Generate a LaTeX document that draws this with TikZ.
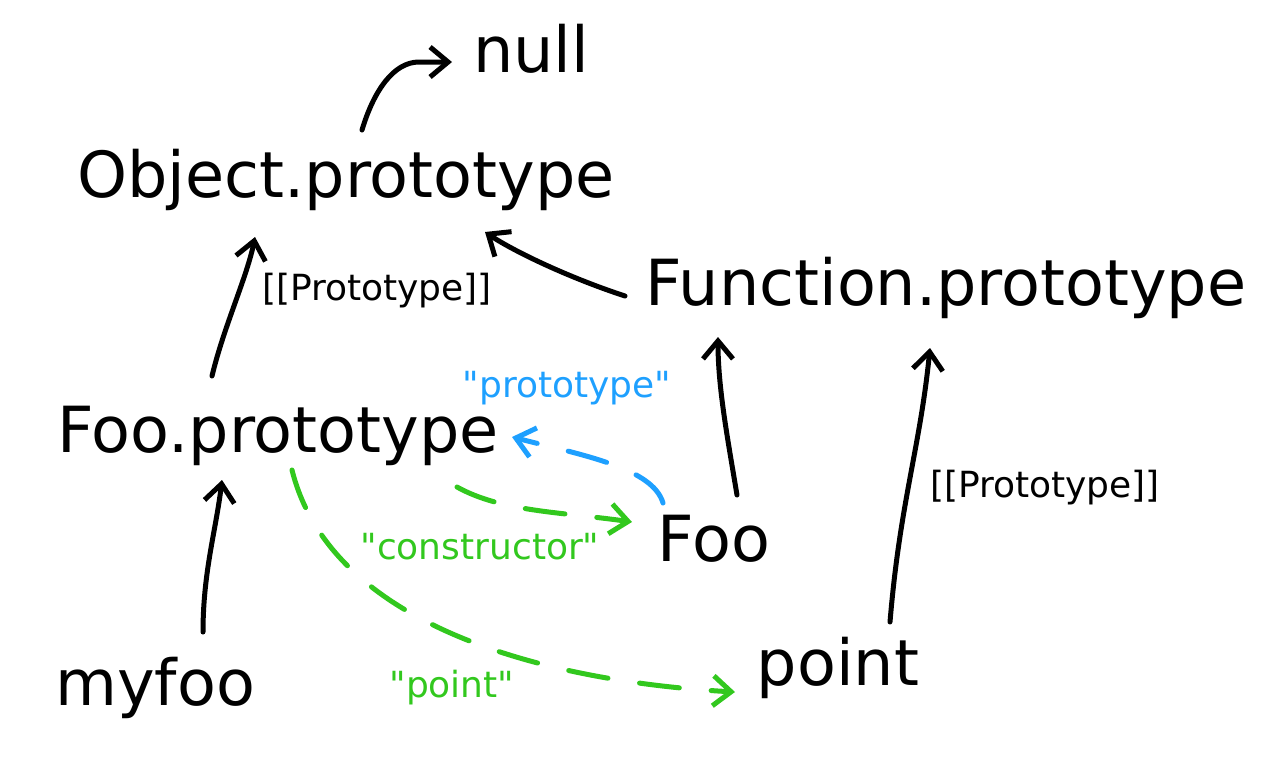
\documentclass[tikz,border=0pt]{standalone}
\usepackage{fontspec}
\setmainfont{DejaVu Sans}
\newfontfamily\plainsans{DejaVu Sans}
\usepackage{tikz}
\usetikzlibrary{arrows.meta,calc}
\definecolor{cproto}{RGB}{30,160,255}
\definecolor{cctor}{RGB}{50,200,30}
\tikzset{
  obj/.style={font=\plainsans\fontsize{31.8}{36}\selectfont, inner sep=0pt, text=black},
  lbl/.style={font=\plainsans\fontsize{18}{22}\selectfont, inner sep=0pt, text=#1},
  link/.style={-{Straight Barb[length=9pt,width=15pt,line width=2.5pt]}, line width=2.5pt,
               line cap=round, line join=round, #1},
  link/.default=black,
  dlink/.style={link=#1, dash pattern=on 20pt off 16pt},
}

\begin{document}
\begin{tikzpicture}[x=0.5pt, y=-0.5pt]
\useasboundingbox (0,0) rectangle (1276,772);
% objects
\node[obj] (null) at (531,49) {null};
\node[obj] (objproto) at (346,180) {Object.prototype};
\node[obj] (funcproto) at (946,288) {Function.prototype};
\node[obj] (fooproto) at (278,436) {Foo.prototype};
\node[obj] (foo) at (714,539) {Foo};
\node[obj] (point) at (838,668) {point};
\node[obj] (myfoo) at (155,688) {myfoo};
% labels
\node[lbl=black] (lproto1) at (377,291) {[[Prototype]]};
\node[lbl=black] (lproto2) at (1045,488) {[[Prototype]]};
\node[lbl=cproto] (lprop) at (567,388) {"prototype"};
\node[lbl=cctor] (lctor) at (480,547) {"constructor"};
\node[lbl=cctor] (lpoint) at (452,688) {"point"};
% [[Prototype]] links
\draw[link] ($(objproto)+(16,-50)$) .. controls +(12,-40) and +(-25,0) .. ($(null)+(-112,13)$) -- ($(null)+(-79,13)$);
\draw[link] ($(fooproto)+(-66,-60)$) .. controls +(12,-50) and +(-8,40) .. ($(objproto)+(-91,57)$);
\draw[link] ($(funcproto)+(-321,8)$) .. controls +(-55,-18) and +(30,20) .. ($(objproto)+(139,52)$);
\draw[link] ($(foo)+(23,-44)$) .. controls +(-10,-60) and +(0,50) .. ($(funcproto)+(-228,49)$);
\draw[link] ($(point)+(52,-46)$) .. controls +(10,-120) and +(-10,100) .. ($(funcproto)+(-16,60)$);
\draw[link] ($(myfoo)+(48,-56)$) .. controls +(0,-60) and +(-6,50) .. ($(fooproto)+(-56,44)$);
% properties
\draw[dlink=cproto] ($(foo)+(-51,-36)$) .. controls +(-10,-35) and +(70,18) .. ($(fooproto)+(234,1)$);
\draw[dlink=cctor] ($(fooproto)+(179,51)$) .. controls +(45,25) and +(-70,-10) .. ($(foo)+(-82,-17)$);
\draw[dlink=cctor] ($(fooproto)+(14,34)$) .. controls +(40,160) and +(-180,-10) .. ($(point)+(-103,24)$);
\end{tikzpicture}
\end{document}
